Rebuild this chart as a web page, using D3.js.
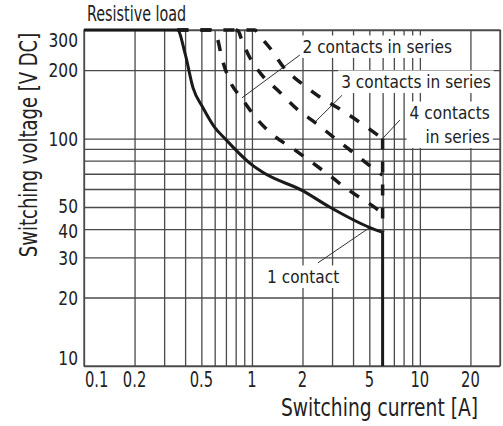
<!DOCTYPE html>
<html lang="en">
<head>
  <meta charset="UTF-8">
  <title>Switching capacity</title>
  <script src="https://d3js.org/d3.v7.min.js"></script>
  <style>
    body { margin: 0; background: #fff; }
    text { font-family: "Liberation Sans Narrow", "Arial Narrow", "DejaVu Sans Condensed", sans-serif; fill: #222; }
  </style>
</head>
<body>
  <svg id="svg" width="503" height="426"></svg>
  <script>
    // grid and tick values
    var xGrid = [0.1, 0.2, 0.3, 0.4, 0.5, 0.6, 0.7, 0.8, 0.9, 1, 2, 3, 4, 5, 6, 7, 8, 9, 10, 20, 30]
    var yGrid = [10, 20, 30, 40, 50, 60, 70, 80, 90, 100, 200, 300]
    var xLabels = [0.1, 0.2, 0.5, 1, 2, 5, 10, 20]
    var yLabels = [10, 20, 30, 40, 50, 100, 200, 300]

    // curves: [current A, voltage V DC]
    var oneContact = [[0.1, 300], [0.36, 300], [0.40, 236], [0.446, 167], [0.51, 137], [0.60, 112],
      [0.69, 100], [0.97, 78], [1.16, 71], [2.0, 59], [2.9, 50], [5.0, 40.7], [6.0, 38.7]]
    var oneContactDrop = [[6.0, 38.7], [6.0, 10]]
    var twoSeries = [[0.36, 300], [0.56, 300], [0.62, 277], [0.662, 226], [0.739, 179], [0.871, 150],
      [1.07, 122], [1.35, 103], [1.78, 89.6], [2.28, 78.5], [2.95, 68.1], [3.78, 59.2], [4.97, 51.9], [6.0, 47]]
    var threeSeries = [[0.80, 300], [0.83, 297], [0.861, 277], [0.974, 226], [1.148, 190], [1.45, 161],
      [1.85, 135], [2.40, 117], [3.08, 101], [3.94, 87.7], [5.11, 75.3], [6.0, 69]]
    var fourSeries = [[0.36, 300], [1.04, 300], [1.10, 285], [1.28, 250], [1.55, 205], [1.99, 174],
      [2.61, 150], [3.44, 133], [4.52, 116], [6.0, 100]]
    var seriesDrop = [[6.0, 100], [6.0, 38.7]]

    // notes: label lines, anchor point, leader from -> to
    var notes = [
      { lines: ['2 contacts in series'], at: [2.0, 238], anchor: 'start', from: [1.93, 233], to: [0.873, 151] },
      { lines: ['3 contacts in series'], at: [3.4, 167], anchor: 'start', from: [3.44, 155], to: [2.37, 118] },
      { lines: ['4 contacts', 'in series'], at: [26.1, 122], anchor: 'end', from: [7.6, 120.5], to: [6.0, 100] },
      { lines: ['1 contact'], at: [1.23, 23.2], anchor: 'start', from: [2.47, 28.4], to: [5.0, 40.5] }
    ]

    var x = d3.scaleLog().domain([0.1, 30]).range([84, 500])
    var y = d3.scaleLog().domain([10, 300]).range([366, 30])

    var svg = d3.select('svg')

    // text squeezed sideways, the original uses a condensed face
    function label(parent, tx, ty, f, size, anchor, s, rot) {
      return parent.append('text')
        .attr('transform', 'translate(' + tx + ',' + ty + ')' + (rot ? ' rotate(' + rot + ')' : '') + ' scale(' + f + ',1)')
        .attr('text-anchor', anchor)
        .style('font-size', size + 'px')
        .text(s)
    }

    // grid via axes
    svg.append('g')
      .attr('class', 'grid')
      .attr('transform', 'translate(0,366)')
      .call(d3.axisBottom(x).tickValues(xGrid).tickSize(-336).tickFormat(''))
    svg.append('g')
      .attr('class', 'grid')
      .attr('transform', 'translate(84,0)')
      .call(d3.axisLeft(y).tickValues(yGrid).tickSize(-416).tickFormat(''))
    svg.selectAll('.grid .domain').remove()
    svg.selectAll('.grid line').attr('stroke', '#4a4a4a').attr('stroke-width', 1.3)

    svg.append('rect')
      .attr('x', x(0.1)).attr('y', y(300))
      .attr('width', x(30) - x(0.1)).attr('height', y(10) - y(300))
      .attr('fill', 'none').attr('stroke', '#4a4a4a').attr('stroke-width', 1.3)

    // tick labels
    xLabels.forEach(d => {
      label(svg, d === 0.1 ? x(d) + 1 : x(d), 387, 0.78, 21, d === 0.1 ? 'start' : 'middle', d)
    })
    yLabels.forEach(d => {
      var off = d === 300 ? 16.5 : d === 10 ? -1 : d === 50 ? 6 : d === 40 ? 8.5 : 7.2
      label(svg, 78, y(d) + off, 0.86, 20, 'end', d)
    })

    // titles
    label(svg, 87, 21, 0.76, 21, 'start', 'Resistive load')
    label(svg, 478, 416, 0.83, 25, 'end', 'Switching current [A]')
    label(svg, 37, 145, 0.8, 25, 'middle', 'Switching voltage [V DC]', -90)

    // note labels with white boxes
    notes.forEach(n => {
      var g = svg.append('g')
      var boxes = []
      n.lines.forEach((s, i) => {
        var t = label(g, x(n.at[0]), y(n.at[1]) + i * 24, 0.95, 18, n.anchor, s)
        boxes.push(t.node().getBoundingClientRect())
      })
      var x0 = d3.min(boxes, b => b.left), x1 = d3.max(boxes, b => b.right)
      var y0 = d3.min(boxes, b => b.top), y1 = d3.max(boxes, b => b.bottom)
      g.insert('rect', 'text')
        .attr('x', x0 - 3).attr('y', y0 - 1)
        .attr('width', x1 - x0 + 6).attr('height', y1 - y0 + 2)
        .attr('fill', '#fff')
      svg.append('line')
        .attr('x1', x(n.from[0])).attr('y1', y(n.from[1]))
        .attr('x2', x(n.to[0])).attr('y2', y(n.to[1]))
        .attr('stroke', '#333').attr('stroke-width', 1)
    })

    // curves
    var line = d3.line()
      .x(d => x(d[0]))
      .y(d => y(d[1]))
      .curve(d3.curveMonotoneX)
    var straight = d3.line()
      .x(d => x(d[0]))
      .y(d => y(d[1]))

    var dashed = [twoSeries, threeSeries, fourSeries]
    svg.selectAll('.dash')
      .data(dashed)
      .enter()
      .append('path')
      .attr('d', d => line(d))
      .attr('fill', 'none')
      .attr('stroke', '#1a1a1a')
      .attr('stroke-width', 3.5)
      .attr('stroke-dasharray', '11,12')
    svg.append('path')
      .attr('d', straight(seriesDrop))
      .attr('fill', 'none')
      .attr('stroke', '#1a1a1a')
      .attr('stroke-width', 3.5)
      .attr('stroke-dasharray', '11,12')

    svg.append('path')
      .attr('d', line(oneContact))
      .attr('fill', 'none')
      .attr('stroke', '#1a1a1a')
      .attr('stroke-width', 3)
    svg.append('path')
      .attr('d', straight(oneContactDrop))
      .attr('fill', 'none')
      .attr('stroke', '#1a1a1a')
      .attr('stroke-width', 3)
  </script>
</body>
</html>
